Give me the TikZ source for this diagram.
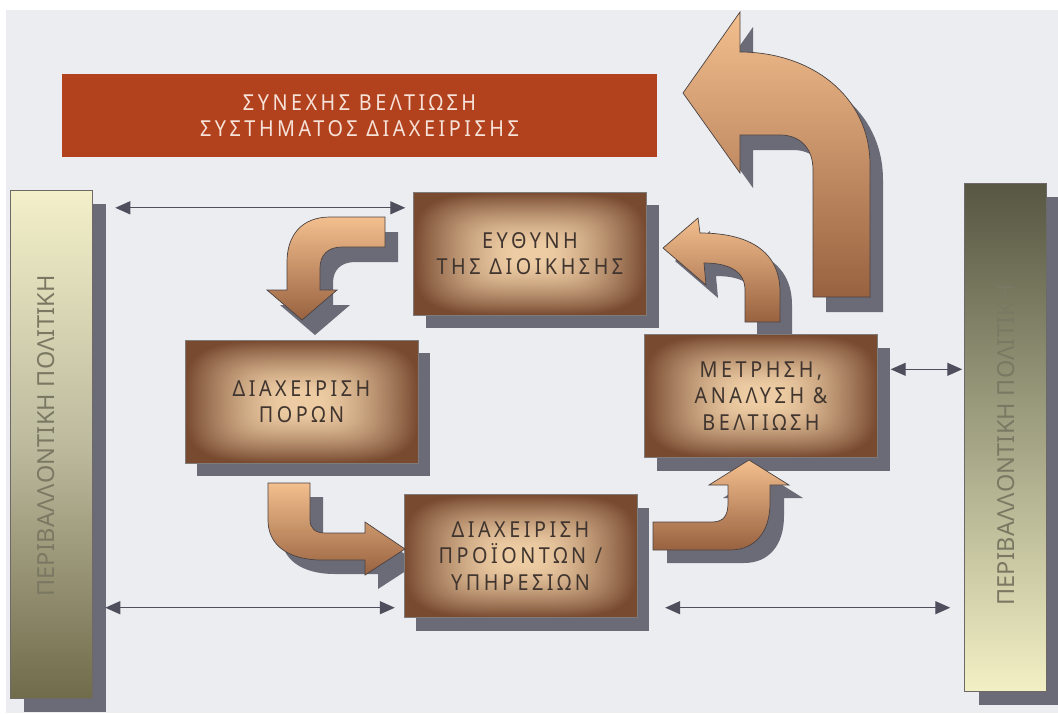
\documentclass[tikz,border=0pt]{standalone}
\usepackage{fontspec}
\usetikzlibrary{arrows.meta,calc,shadows}
\newfontfamily\grfont[FakeStretch=0.9,LetterSpace=16]{Noto Sans}
\newfontfamily\barfont[LetterSpace=1]{Noto Sans}
\definecolor{paper}{HTML}{EBEDF1}
\definecolor{shd}{HTML}{6B6B77}
\definecolor{titlered}{HTML}{B2421E}
\definecolor{titletext}{HTML}{F6E2D8}
\definecolor{boxtext}{HTML}{40352F}
\definecolor{bartext}{HTML}{7A7862}
\definecolor{arrline}{HTML}{4E4E5C}
\definecolor{arrtop}{HTML}{F3BF8E}
\definecolor{arrbot}{HTML}{986240}
\definecolor{outl}{HTML}{4A4242}
\pgfdeclarefunctionalshading{rectglow}{\pgfpoint{-50bp}{-50bp}}{\pgfpoint{50bp}{50bp}}{}{
 dup mul dup mul exch dup mul dup mul add sqrt sqrt 25 div dup 1 gt {pop 1} if
 0.12 sub 0.88 div dup 0 lt {pop 0} if dup sqrt mul
 dup -0.46 mul 0.93 add exch
 dup -0.51 mul 0.80 add exch
 -0.45 mul 0.64 add
}
\def\pA{(813,297) -- (813,170) .. controls (813,148) and (800,135) .. (780,135) -- (740,135) -- (740,173) -- (683,93) -- (740,12) -- (740,52) .. controls (810,52) and (870,95) .. (870,165) -- (870,297) -- cycle}
\def\pB{(745,322) -- (745,290) .. controls (745,272) and (730,263) .. (704,263) -- (706,285) -- (663,248) -- (698,218) -- (700,233) .. controls (750,233) and (780,252) .. (780,292) -- (780,322) -- cycle}
\def\pC{(385,217) -- (330,217) .. controls (302,217) and (287,235) .. (287,262) -- (287,290) -- (267,290) -- (302,320) -- (337,290) -- (320,290) -- (320,268) .. controls (320,255) and (328,247) .. (342,247) -- (385,247) -- cycle}
\def\pD{(310,483) -- (310,520) .. controls (310,528) and (315,533) .. (325,533) -- (365,533) -- (365,522) -- (405,549) -- (365,575) -- (365,560) -- (322,560) .. controls (288,560) and (268,545) .. (268,520) -- (268,483) -- cycle}
\def\pE{(653,522) -- (712,522) .. controls (724,522) and (728,515) .. (728,503) -- (728,485) -- (709,485) -- (749,460) -- (789,485) -- (770,485) -- (770,503) .. controls (770,532) and (755,550) .. (730,550) -- (653,550) -- cycle}
\begin{document}
\begin{tikzpicture}[x=1pt,y=-1pt,
  boxnode/.style={rectangle, minimum width=233pt, minimum height=123pt, inner sep=0pt,
    shade, shading=rectglow, draw=outl!70, line width=0.4pt, align=center, text=boxtext,
    font=\grfont\fontsize{22}{26.5}\selectfont,
    drop shadow={shadow xshift=12pt, shadow yshift=-13pt, fill=shd, opacity=1}},
  titlebox/.style={rectangle, fill=titlered, minimum width=595pt, minimum height=83pt,
    inner sep=0pt, align=center, text=titletext, font=\grfont\fontsize{22}{26}\selectfont},
  barnode/.style={rectangle, minimum width=82pt, minimum height=508pt, inner sep=0pt,
    draw=outl!80, line width=0.5pt,
    drop shadow={shadow xshift=14pt, shadow yshift=-13pt, fill=shd, opacity=1}},
  bartxt/.style={rotate=90, text=bartext, font=\barfont\fontsize{23.5}{28}\selectfont},
  shadowfill/.style={fill=shd, draw=none},
  blockarrow/.style={draw=outl, line width=0.7pt, top color=arrtop, bottom color=arrbot},
  dbl/.style={draw=arrline, line width=1.3pt,
    {Triangle[length=15pt,width=13pt]}-{Triangle[length=15pt,width=13pt]}}
]
\useasboundingbox (0,0) rectangle (1058,713);
\fill[white] (0,0) rectangle (1058,713);
\fill[paper] (6,10) rectangle (1058,713);

% title
\node[titlebox] (title) at (359.5,115.5) {ΣΥΝΕΧΗΣ ΒΕΛΤΙΩΣΗ\\ΣΥΣΤΗΜΑΤΟΣ ΔΙΑΧΕΙΡΙΣΗΣ};

% side bars
\node[barnode, top color={rgb,1:red,0.95;green,0.94;blue,0.79}, bottom color={rgb,1:red,0.44;green,0.42;blue,0.29},
  middle color={rgb,1:red,0.74;green,0.73;blue,0.62}] (lbar) at (51,444.5) {};
\node[bartxt] (ltext) at (46,436) {ΠΕΡΙΒΑΛΛΟΝΤΙΚΗ ΠΟΛΙΤΙΚΗ};
\node[barnode, top color={rgb,1:red,0.34;green,0.34;blue,0.26}, bottom color={rgb,1:red,0.95;green,0.94;blue,0.77},
  middle color={rgb,1:red,0.64;green,0.64;blue,0.52}] (rbar) at (1005.5,437.5) {};
\node[bartxt] (rtext) at (1006,445) {ΠΕΡΙΒΑΛΛΟΝΤΙΚΗ ΠΟΛΙΤΙΚΗ};

% shadows of the curved arrows
\fill[shadowfill, shift={(13,15)}] \pA;
\fill[shadowfill, shift={(12,13)}] \pB;
\fill[shadowfill, shift={(13,15)}] \pC;
\fill[shadowfill, shift={(13,14)}] \pD;
\fill[shadowfill, shift={(14,13)}] \pE;

% boxes
\node[boxnode] (eythyni) at (530,253.5) {ΕΥΘΥΝΗ\\ΤΗΣ ΔΙΟΙΚΗΣΗΣ};
\node[boxnode] (poron) at (301.5,401.5) {ΔΙΑΧΕΙΡΙΣΗ\\ΠΟΡΩΝ};
\node[boxnode] (metrisi) at (761,396) {ΜΕΤΡΗΣΗ,\\ΑΝΑΛΥΣΗ \&\\ΒΕΛΤΙΩΣΗ};
\node[boxnode] (proionton) at (520.5,556) {ΔΙΑΧΕΙΡΙΣΗ\\ΠΡΟΪΟΝΤΩΝ /\\ΥΠΗΡΕΣΙΩΝ};

% curved block arrows
\path[blockarrow] \pA;
\path[blockarrow] \pB;
\path[blockarrow] \pC;
\path[blockarrow] \pD;
\path[blockarrow] \pE;

% double-headed connectors
\draw[dbl] ($(lbar.east |- eythyni.north)+(23,16)$) -- ($(eythyni.north west)+(-8,16)$);
\draw[dbl] ($(metrisi.north east)+(13,35)$) -- ($(rbar.west |- metrisi.north)+(-2,35)$);
\draw[dbl] ($(lbar.east |- proionton.south)+(13,-10)$) -- ($(proionton.south west)+(-9,-10)$);
\draw[dbl] ($(proionton.south east)+(28,-10)$) -- ($(rbar.west |- proionton.south)+(-14,-10)$);
\end{tikzpicture}
\end{document}
